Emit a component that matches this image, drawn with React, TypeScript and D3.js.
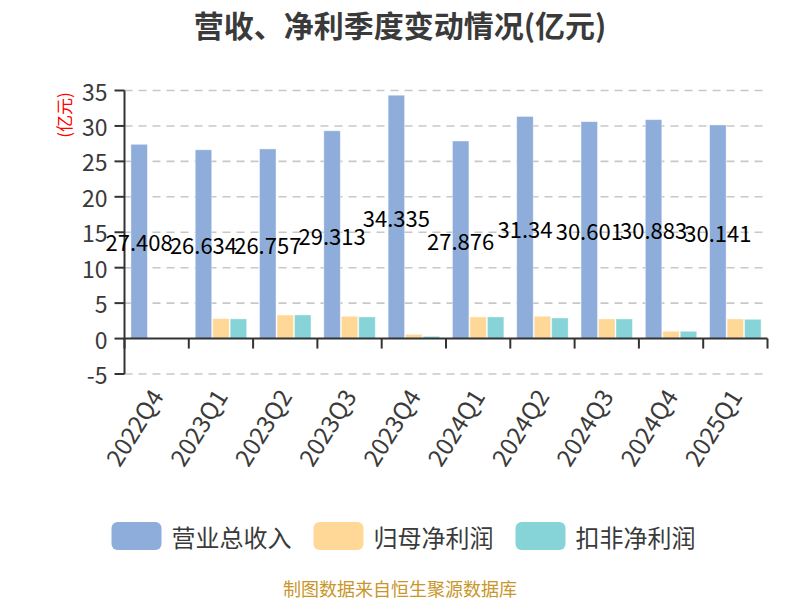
import React from "react";
import * as d3 from "d3";

const categories = ["2022Q4", "2023Q1", "2023Q2", "2023Q3", "2023Q4", "2024Q1", "2024Q2", "2024Q3", "2024Q4", "2025Q1"];
const revenue = [27.408, 26.634, 26.757, 29.313, 34.335, 27.876, 31.34, 30.601, 30.883, 30.141];
const netProfit = [0.08, 2.82, 3.33, 3.15, 0.6, 3.05, 3.15, 2.77, 1.03, 2.77];
const deductedProfit = [0.06, 2.78, 3.33, 3.05, 0.32, 3.05, 2.9, 2.77, 1.03, 2.72];
const yTicks = [-5, 0, 5, 10, 15, 20, 25, 30, 35];
const seriesNames = ["营业总收入", "归母净利润", "扣非净利润"];
const colors = ["#8eaddb", "#ffd898", "#86d4d8"];

const FONT = "'Noto Sans CJK SC', 'Noto Sans', sans-serif";

export default function App() {
  const W = 800, H = 600;
  const x0 = 124.5, x1 = 767.5;
  const x = d3.scaleBand<string>().domain(categories).range([x0, x1]).paddingInner(0).paddingOuter(0);
  const y = d3.scaleLinear().domain([-5, 35]).range([374, 90.5]);
  const bw = x.bandwidth();
  const groupW = bw * 0.8;
  const gap = 1;
  const barW = (groupW - 2 * gap) / 3;
  const series = [revenue, netProfit, deductedProfit];

  const legendBoxW = 50, legendBoxH = 28, textW = 121;
  const itemW = legendBoxW + 10 + textW;
  const itemGap = 21;
  const legendTotal = itemW * 3 + itemGap * 2;
  const legendX = 404 - legendTotal / 2;

  return (
    <svg width={W} height={H} style={{ position: "absolute", left: 0, top: 0, background: "#fff" }} fontFamily={FONT}>
      <text x={400} y={24} textAnchor="middle" dominantBaseline="central" fontSize={30} fontWeight="bold" fill="#3a3a3a">
        营收、净利季度变动情况(亿元)
      </text>
      {/* y axis name */}
      <text transform={`translate(63,115) rotate(-90)`} textAnchor="middle" dominantBaseline="central" fontSize={17} fill="#ff0000">
        (亿元)
      </text>
      {/* grid lines */}
      {yTicks.filter(t => t !== 0).map(t => (
        <line key={t} x1={x0} x2={x1} y1={y(t)} y2={y(t)} stroke="#c8c8c8" strokeWidth={1.6} strokeDasharray="8,6" />
      ))}
      {/* bars */}
      {series.map((vals, si) =>
        vals.map((v, i) => {
          const bx = (x(categories[i]) as number) + (bw - groupW) / 2 + si * (barW + gap);
          const top = y(Math.max(0, v));
          const h = Math.abs(y(v) - y(0));
          return <rect key={`${si}-${i}`} x={bx} y={top} width={barW} height={h} fill={colors[si]} stroke="rgba(255,255,255,0.5)" strokeWidth={0.8} />;
        })
      )}
      {/* y axis */}
      <line x1={x0} x2={x0} y1={y(35)} y2={y(-5)} stroke="#333" strokeWidth={2} />
      {yTicks.map(t => (
        <g key={t}>
          <line x1={x0 - 10} x2={x0} y1={y(t)} y2={y(t)} stroke="#333" strokeWidth={2} />
          <text x={x0 - 17} y={y(t)} textAnchor="end" dominantBaseline="central" fontSize={23} fill="#3a3a3a">{t}</text>
        </g>
      ))}
      {/* x axis at zero */}
      <line x1={x0} x2={x1} y1={y(0)} y2={y(0)} stroke="#333" strokeWidth={2} />
      {d3.range(categories.length + 1).map(i => {
        const tx = x0 + i * bw;
        return <line key={i} x1={tx} x2={tx} y1={y(0)} y2={y(0) + 10} stroke="#333" strokeWidth={2} />;
      })}
      {categories.map(c => {
        const cx = (x(c) as number) + bw / 2 - 1;
        return (
          <text key={c} transform={`translate(${cx},391) rotate(-58)`} textAnchor="end" dominantBaseline="central" fontSize={24} fill="#3a3a3a">{c}</text>
        );
      })}
      {/* data labels for revenue */}
      {revenue.map((v, i) => {
        const bx = (x(categories[i]) as number) + (bw - groupW) / 2 + barW / 2;
        return (
          <text key={i} x={bx} y={y(v / 2)} textAnchor="middle" dominantBaseline="central" fontSize={22} fill="#000">{v}</text>
        );
      })}
      {/* legend */}
      {seriesNames.map((n, i) => {
        const lx = legendX + i * (itemW + itemGap);
        return (
          <g key={n}>
            <rect x={lx} y={522} width={legendBoxW} height={legendBoxH} rx={6} fill={colors[i]} />
            <text x={lx + legendBoxW + 10} y={536} dominantBaseline="central" fontSize={24} fill="#3a3a3a">{n}</text>
          </g>
        );
      })}
      <text x={400} y={588} textAnchor="middle" dominantBaseline="central" fontSize={18} fill="#c9962a">制图数据来自恒生聚源数据库</text>
    </svg>
  );
}
